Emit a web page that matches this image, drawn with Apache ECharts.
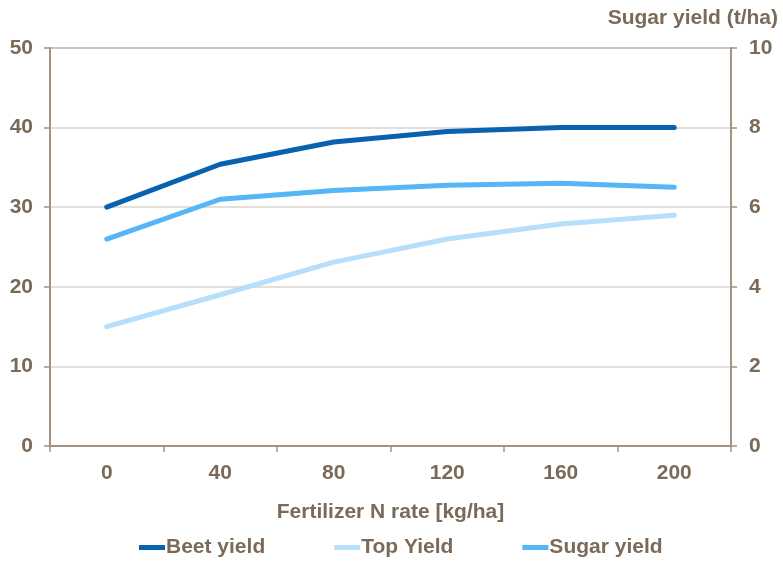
<!DOCTYPE html>
<html>
<head>
<meta charset="utf-8">
<script src="https://cdn.jsdelivr.net/npm/echarts@6/dist/echarts.min.js"></script>
<style>
  html, body { margin: 0; padding: 0; background: #fff; }
  #chart { width: 783px; height: 563px; }
</style>
</head>
<body>
<div id="chart"></div>
<script>
// Fertilizer N rate categories (kg/ha)
const nRates = ['0', '40', '80', '120', '160', '200'];
// Yields in t/ha
const beetYield = [30, 35.4, 38.2, 39.5, 40, 40];
const topYield = [15, 19, 23.1, 26, 27.9, 29];
const sugarYield = [5.2, 6.2, 6.42, 6.55, 6.6, 6.5];

const textColor = '#7b6a58';
const axisColor = '#a39382';
const fontFamily = '"Liberation Sans Narrow", "Liberation Sans", Arial, sans-serif';
const fontSize = 21;

const chart = echarts.init(document.getElementById('chart'));
chart.setOption({
  animation: false,
  textStyle: { fontFamily: fontFamily, fontWeight: 'bold', color: textColor },
  title: {
    text: 'Sugar yield (t/ha)',
    right: 0,
    top: 3,
    textStyle: { fontFamily: fontFamily, fontSize: fontSize, fontWeight: 'bold', color: textColor }
  },
  grid: {
    left: 50, right: 52, top: 48, bottom: 117,
    show: true, borderColor: axisColor, borderWidth: 2, backgroundColor: 'transparent'
  },
  legend: {
    bottom: 5,
    left: 139,
    padding: 0,
    itemWidth: 26,
    itemHeight: 5,
    itemGap: 69,
    icon: 'rect',
    textStyle: { fontFamily: fontFamily, fontSize: fontSize, fontWeight: 'bold', color: textColor, padding: [0, 0, 0, -4] },
    data: ['Beet yield', 'Top Yield', 'Sugar yield']
  },
  xAxis: {
    type: 'category',
    data: nRates,
    boundaryGap: true,
    name: 'Fertilizer N rate [kg/ha]',
    nameLocation: 'middle',
    nameGap: 56,
    nameTextStyle: { fontFamily: fontFamily, fontSize: fontSize, fontWeight: 'bold', color: textColor, verticalAlign: 'top' },
    axisLine: { lineStyle: { color: axisColor, width: 2 } },
    axisTick: { show: true, length: 6, lineStyle: { color: axisColor, width: 1.5 } },
    axisLabel: { margin: 17, fontSize: fontSize, fontWeight: 'bold', color: textColor, fontFamily: fontFamily }
  },
  yAxis: [
    {
      type: 'value', min: 0, max: 50, interval: 10,
      axisLine: { show: true, lineStyle: { color: axisColor, width: 2 } },
      axisTick: { show: true, length: 6, lineStyle: { color: axisColor, width: 1.5 } },
      axisLabel: { margin: 17, fontSize: fontSize, fontWeight: 'bold', color: textColor, fontFamily: fontFamily },
      splitLine: { show: true, lineStyle: { color: '#ddd5cc', width: 1.5 } }
    },
    {
      type: 'value', min: 0, max: 10, interval: 2,
      position: 'right',
      axisLine: { show: true, lineStyle: { color: axisColor, width: 2 } },
      axisTick: { show: true, length: 6, lineStyle: { color: axisColor, width: 1.5 } },
      axisLabel: { margin: 18, fontSize: fontSize, fontWeight: 'bold', color: textColor, fontFamily: fontFamily },
      splitLine: { show: false }
    }
  ],
  series: [
    {
      name: 'Beet yield', type: 'line', yAxisIndex: 0, data: beetYield,
      showSymbol: false, symbol: 'none',
      lineStyle: { color: '#0862b0', width: 5, cap: 'round', join: 'round' },
      itemStyle: { color: '#0862b0' }
    },
    {
      name: 'Top Yield', type: 'line', yAxisIndex: 0, data: topYield,
      showSymbol: false, symbol: 'none',
      lineStyle: { color: '#b6defd', width: 5, cap: 'round', join: 'round' },
      itemStyle: { color: '#b6defd' }
    },
    {
      name: 'Sugar yield', type: 'line', yAxisIndex: 1, data: sugarYield,
      showSymbol: false, symbol: 'none',
      lineStyle: { color: '#56b5f6', width: 5, cap: 'round', join: 'round' },
      itemStyle: { color: '#56b5f6' }
    }
  ]
});
</script>
</body>
</html>
